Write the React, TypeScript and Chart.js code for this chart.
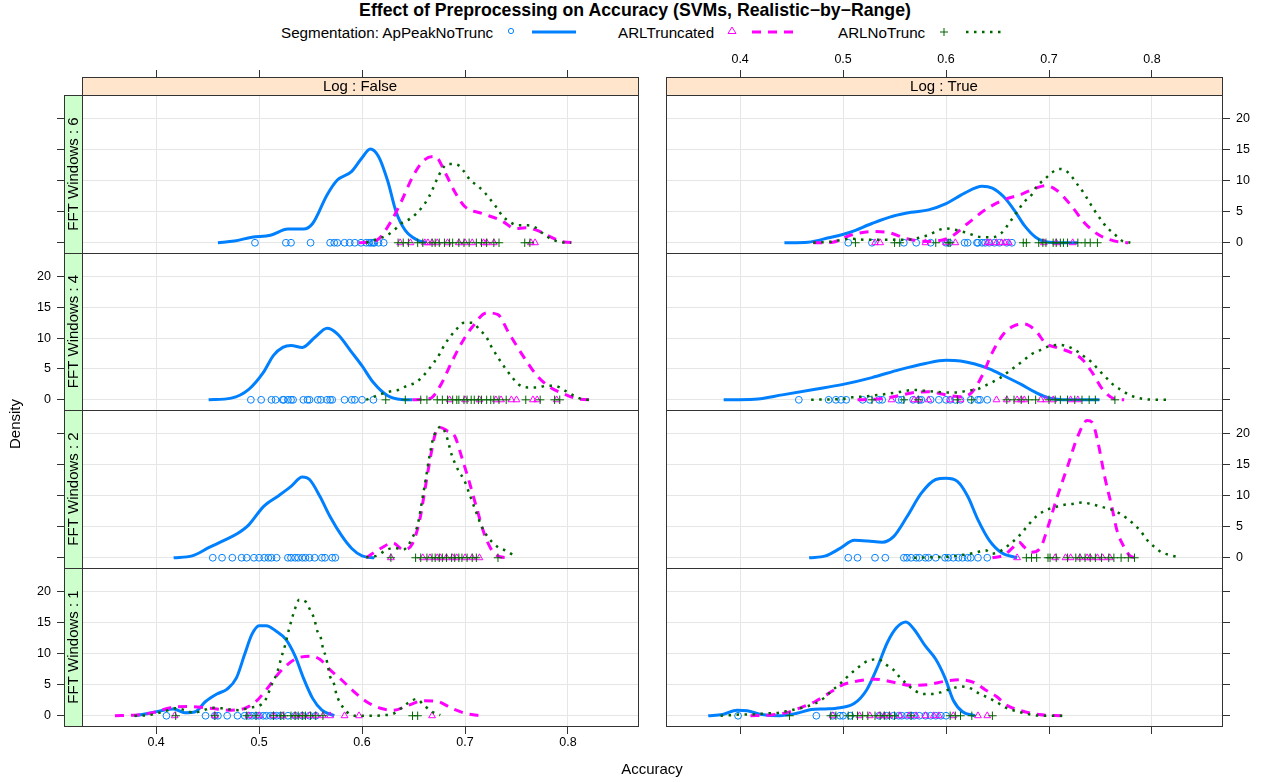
import React, { useEffect, useRef } from "react";
import { Chart, registerables } from "chart.js";

Chart.register(...registerables);

type Pt = [number, number];

// ---------- labels / ticks ----------
const titleText = "Effect of Preprocessing on Accuracy (SVMs, Realistic\u2212by\u2212Range)";
const seriesNames = ["Segmentation: ApPeakNoTrunc", "ARLTruncated", "ARLNoTrunc"];
const logLevels = ["Log : False", "Log : True"];
const fftLevels = ["FFT Windows : 6", "FFT Windows : 4", "FFT Windows : 2", "FFT Windows : 1"];
const xTickValues = [0.4, 0.5, 0.6, 0.7, 0.8];
const yTickValues = [0, 5, 10, 15, 20];
const xLimits = [0.328, 0.868];
const yLimits = [-1.65, 23.8];

// ---------- Log : False, FFT Windows : 6 ----------
const lf6Ap: Pt[] = [[0.460,0],[0.476,0.27],[0.493,0.9],[0.511,1.2],[0.528,2.2],[0.543,2.2],[0.552,3.1],[0.566,7.7],[0.576,10.1],[0.590,11.5],[0.600,13.7],[0.608,15.1],[0.616,13.9],[0.625,9.9],[0.633,5.0],[0.642,2.0],[0.654,0.4],[0.662,0]];
const lf6Trunc: Pt[] = [[0.597,0],[0.614,0.4],[0.628,3.4],[0.638,6.6],[0.650,10.9],[0.661,13.4],[0.671,13.9],[0.681,11.2],[0.690,8.2],[0.700,5.8],[0.717,4.7],[0.735,3.6],[0.749,2.3],[0.759,2.4],[0.770,2.0],[0.780,1.2],[0.794,0.2],[0.809,0]];
const lf6NoTrunc: Pt[] = [[0.604,0],[0.624,1.2],[0.631,2.0],[0.638,3.1],[0.647,3.9],[0.654,4.9],[0.660,6.1],[0.665,7.4],[0.669,8.8],[0.673,10.3],[0.677,11.6],[0.683,12.7],[0.692,12.6],[0.699,11.5],[0.705,10.1],[0.712,9.2],[0.719,8.1],[0.725,6.9],[0.731,5.6],[0.736,4.4],[0.743,3.4],[0.752,2.8],[0.761,2.8],[0.770,2.3],[0.777,1.3],[0.785,0.5],[0.794,0.1],[0.803,0]];
const lf6RugAp = [0.496,0.526,0.531,0.550,0.569,0.573,0.576,0.583,0.588,0.593,0.599,0.604,0.607,0.609,0.611,0.612,0.616,0.621];
const lf6RugTrunc = [0.637,0.647,0.661,0.664,0.668,0.673,0.683,0.694,0.700,0.707,0.718,0.721,0.728,0.764,0.768];
const lf6RugNoTrunc = [0.635,0.640,0.645,0.654,0.659,0.668,0.671,0.675,0.680,0.685,0.688,0.694,0.699,0.704,0.711,0.716,0.721,0.728,0.733,0.758,0.763];

// ---------- Log : True, FFT Windows : 6 ----------
const lt6Ap: Pt[] = [[0.443,0],[0.466,0.1],[0.486,0.8],[0.507,1.7],[0.528,3.1],[0.549,4.3],[0.566,4.9],[0.583,5.3],[0.600,6.3],[0.618,8.0],[0.635,9.1],[0.645,8.8],[0.656,7.4],[0.666,5.3],[0.676,2.8],[0.687,0.9],[0.700,0.1],[0.728,0]];
const lt6Trunc: Pt[] = [[0.471,0],[0.490,0.1],[0.507,1.2],[0.528,1.8],[0.545,1.6],[0.562,0.65],[0.583,0.2],[0.604,0.9],[0.621,3.1],[0.638,5.3],[0.656,6.9],[0.673,7.8],[0.687,8.8],[0.697,9.2],[0.707,8.5],[0.721,6.1],[0.735,3.1],[0.749,1.2],[0.763,0.3],[0.777,0]];
const lt6NoTrunc: Pt[] = [[0.471,0],[0.490,0.2],[0.507,0.65],[0.521,0.5],[0.542,0.5],[0.562,0.5],[0.580,1.1],[0.600,2.3],[0.618,1.7],[0.635,0.9],[0.645,0.9],[0.654,1.6],[0.661,3.1],[0.669,5.0],[0.676,6.6],[0.683,7.7],[0.688,9.1],[0.695,10.1],[0.702,11.2],[0.710,11.9],[0.718,11.4],[0.728,9.3],[0.735,7.7],[0.740,6.3],[0.745,5.0],[0.751,3.6],[0.756,2.5],[0.763,1.5],[0.770,0.4],[0.779,0]];
const lt6RugAp = [0.505,0.528,0.559,0.571,0.585,0.600,0.603,0.618,0.621,0.630,0.631,0.635,0.638,0.642,0.647,0.652,0.659,0.664];
const lt6RugTrunc = [0.531,0.536,0.580,0.600,0.609,0.640,0.643,0.649,0.654,0.657,0.661,0.695,0.707,0.723];
const lt6RugNoTrunc = [0.512,0.550,0.555,0.590,0.602,0.604,0.675,0.678,0.690,0.694,0.697,0.704,0.707,0.711,0.714,0.718,0.728,0.735,0.740,0.747];

// ---------- Log : False, FFT Windows : 4 ----------
const lf4Ap: Pt[] = [[0.451,0],[0.473,0.27],[0.490,1.7],[0.504,4.4],[0.514,7.2],[0.523,8.5],[0.531,8.8],[0.542,8.5],[0.554,10.1],[0.566,11.6],[0.576,10.7],[0.590,7.7],[0.600,5.5],[0.611,2.8],[0.625,0.65],[0.638,0.05],[0.649,0]];
const lf4Trunc: Pt[] = [[0.649,0],[0.666,0.2],[0.676,2.3],[0.687,6.1],[0.697,9.3],[0.707,11.8],[0.721,14.1],[0.732,13.8],[0.742,11.0],[0.756,7.2],[0.770,3.9],[0.783,2.0],[0.797,0.9],[0.811,0.1],[0.827,0]];
const lf4NoTrunc: Pt[] = [[0.604,0],[0.618,0.9],[0.626,1.3],[0.635,1.6],[0.644,2.3],[0.652,2.8],[0.659,3.8],[0.665,5.0],[0.670,6.1],[0.676,7.6],[0.680,8.9],[0.685,10.1],[0.692,11.5],[0.699,12.5],[0.707,12.5],[0.714,11.4],[0.721,10.1],[0.725,8.8],[0.730,7.4],[0.735,6.1],[0.740,4.9],[0.746,3.6],[0.752,2.5],[0.761,2.0],[0.770,2.0],[0.780,2.3],[0.789,2.2],[0.797,1.5],[0.806,0.65],[0.815,0.05],[0.825,0]];
const lf4RugAp = [0.492,0.502,0.512,0.516,0.523,0.524,0.528,0.531,0.533,0.543,0.547,0.549,0.557,0.560,0.566,0.569,0.571,0.583,0.590,0.593,0.600,0.611];
const lf4RugTrunc = [0.685,0.700,0.714,0.730,0.735,0.745,0.750,0.766,0.770,0.789];
const lf4RugNoTrunc = [0.623,0.642,0.657,0.663,0.673,0.678,0.683,0.688,0.692,0.694,0.699,0.702,0.706,0.709,0.713,0.716,0.721,0.725,0.728,0.733,0.740,0.759,0.773,0.787,0.792];

// ---------- Log : True, FFT Windows : 4 ----------
const lt4Ap: Pt[] = [[0.384,0],[0.414,0.1],[0.441,0.8],[0.473,1.7],[0.500,2.5],[0.528,3.6],[0.555,4.9],[0.580,5.9],[0.600,6.4],[0.614,6.3],[0.628,5.8],[0.642,5.0],[0.656,3.9],[0.673,2.5],[0.687,1.2],[0.700,0.3],[0.718,0],[0.749,0]];
const lt4Trunc: Pt[] = [[0.514,0],[0.531,0.1],[0.549,0.5],[0.569,1.2],[0.583,1.3],[0.600,0.8],[0.614,0.5],[0.625,1.2],[0.635,3.9],[0.645,7.7],[0.656,10.7],[0.666,12.0],[0.676,12.3],[0.687,11.2],[0.697,9.1],[0.707,8.5],[0.721,7.7],[0.732,6.6],[0.742,4.4],[0.752,1.7],[0.763,0.2],[0.773,0]];
const lt4NoTrunc: Pt[] = [[0.469,0],[0.479,0.05],[0.497,0.1],[0.509,0.4],[0.517,0.5],[0.535,0.8],[0.552,1.2],[0.569,1.6],[0.583,1.4],[0.600,1.2],[0.611,1.2],[0.621,1.5],[0.630,1.7],[0.638,2.3],[0.652,3.5],[0.661,4.6],[0.669,5.6],[0.676,6.5],[0.683,7.4],[0.692,8.1],[0.700,8.7],[0.710,8.9],[0.719,8.6],[0.728,7.8],[0.735,6.9],[0.742,6.0],[0.749,4.7],[0.756,3.5],[0.762,2.5],[0.770,1.6],[0.778,0.8],[0.787,0.3],[0.797,0.05],[0.815,0]];
const lt4RugAp = [0.457,0.486,0.493,0.498,0.503,0.519,0.526,0.535,0.538,0.554,0.557,0.568,0.574,0.576,0.585,0.593,0.600,0.604,0.609,0.614,0.624,0.631,0.633,0.640];
const lt4RugTrunc = [0.547,0.569,0.573,0.583,0.604,0.614,0.649,0.659,0.669,0.673,0.676,0.692,0.697,0.704,0.721,0.728];
const lt4RugNoTrunc = [0.528,0.559,0.573,0.611,0.625,0.659,0.666,0.673,0.680,0.687,0.700,0.706,0.711,0.718,0.725,0.732,0.739,0.745,0.764];

// ---------- Log : False, FFT Windows : 2 ----------
const lf2Ap: Pt[] = [[0.417,0],[0.435,0.3],[0.452,1.7],[0.466,2.8],[0.479,3.9],[0.490,5.3],[0.504,8.2],[0.519,10.0],[0.531,11.5],[0.542,13.0],[0.549,12.6],[0.559,9.9],[0.569,6.6],[0.580,3.6],[0.590,1.5],[0.600,0.3],[0.612,0]];
const lf2Trunc: Pt[] = [[0.604,0],[0.618,1.5],[0.630,2.4],[0.640,1.3],[0.649,2.3],[0.656,6.1],[0.661,10.9],[0.666,15.8],[0.671,19.9],[0.676,21.0],[0.683,20.4],[0.690,19.6],[0.697,16.1],[0.704,12.3],[0.711,8.2],[0.718,4.2],[0.725,1.5],[0.733,0.2],[0.742,0]];
const lf2NoTrunc: Pt[] = [[0.604,0.1],[0.614,0.3],[0.623,1.2],[0.631,1.6],[0.640,1.3],[0.650,3.6],[0.654,5.3],[0.659,9.9],[0.662,12.8],[0.665,15.9],[0.669,19.2],[0.673,20.7],[0.677,21.1],[0.682,19.6],[0.687,16.6],[0.690,15.3],[0.694,13.9],[0.699,12.6],[0.704,10.4],[0.710,7.7],[0.716,5.1],[0.721,3.6],[0.727,2.4],[0.732,1.7],[0.740,1.1],[0.748,0.3]];
const lf2RugAp = [0.455,0.464,0.474,0.483,0.488,0.495,0.500,0.505,0.509,0.512,0.517,0.528,0.531,0.535,0.538,0.542,0.545,0.549,0.554,0.561,0.564,0.571,0.574];
const lf2RugTrunc = [0.628,0.659,0.666,0.673,0.676,0.682,0.688,0.692,0.700,0.707,0.714];
const lf2RugNoTrunc = [0.628,0.652,0.657,0.663,0.668,0.671,0.675,0.678,0.682,0.687,0.690,0.694,0.697,0.702,0.707,0.711,0.732];

// ---------- Log : True, FFT Windows : 2 ----------
const lt2Ap: Pt[] = [[0.467,0],[0.483,0.3],[0.497,1.5],[0.511,2.8],[0.524,2.7],[0.538,2.5],[0.549,3.4],[0.562,6.6],[0.576,10.4],[0.590,12.6],[0.600,12.8],[0.611,12.3],[0.621,9.9],[0.631,6.1],[0.642,2.8],[0.654,0.8],[0.669,0]];
const lt2Trunc: Pt[] = [[0.645,0],[0.656,0.4],[0.664,1.5],[0.671,2.5],[0.676,1.7],[0.683,0.9],[0.692,1.7],[0.699,5.0],[0.707,9.3],[0.718,14.7],[0.728,19.6],[0.737,22.1],[0.742,21.8],[0.747,19.0],[0.754,13.1],[0.761,8.2],[0.766,4.4],[0.773,1.7],[0.778,0.4],[0.783,0]];
const lt2NoTrunc: Pt[] = [[0.569,0],[0.587,0.1],[0.604,0.2],[0.618,0.5],[0.628,0.8],[0.638,1.2],[0.645,0.65],[0.654,1.2],[0.662,2.2],[0.669,3.2],[0.675,4.3],[0.681,5.5],[0.688,6.7],[0.696,7.6],[0.705,8.1],[0.714,8.5],[0.724,8.7],[0.732,8.9],[0.742,8.6],[0.751,8.2],[0.760,7.8],[0.768,7.2],[0.776,6.3],[0.783,5.3],[0.789,4.3],[0.795,2.9],[0.802,1.8],[0.809,0.9],[0.818,0.4],[0.828,0]];
const lt2RugAp = [0.505,0.514,0.531,0.541,0.559,0.562,0.566,0.571,0.574,0.580,0.583,0.590,0.599,0.602,0.607,0.612,0.616,0.621,0.624,0.631,0.640];
const lt2RugTrunc = [0.669,0.706,0.716,0.721,0.730,0.737,0.740,0.747,0.752,0.759];
const lt2RugNoTrunc = [0.678,0.683,0.688,0.699,0.701,0.707,0.718,0.726,0.730,0.735,0.740,0.745,0.751,0.758,0.763,0.770,0.777,0.783];

// ---------- Log : False, FFT Windows : 1 ----------
const lf1Ap: Pt[] = [[0.379,0],[0.393,0.4],[0.407,0.9],[0.417,1.1],[0.428,0.5],[0.438,0.65],[0.448,2.3],[0.459,3.5],[0.469,4.3],[0.478,6.1],[0.486,9.9],[0.493,13.1],[0.500,14.5],[0.507,14.5],[0.516,13.7],[0.526,12.3],[0.535,9.6],[0.543,6.1],[0.552,2.8],[0.561,0.9],[0.573,0]];
const lf1Trunc: Pt[] = [[0.360,0],[0.379,0.1],[0.397,0.5],[0.414,1.3],[0.431,1.5],[0.452,1.2],[0.473,0.9],[0.486,1.2],[0.497,2.3],[0.507,4.2],[0.521,7.2],[0.535,9.1],[0.549,9.6],[0.559,9.1],[0.569,7.4],[0.580,5.8],[0.592,3.9],[0.604,2.3],[0.618,1.2],[0.631,0.9],[0.645,1.7],[0.659,2.4],[0.673,2.3],[0.687,1.2],[0.700,0.4],[0.714,0]];
const lf1NoTrunc: Pt[] = [[0.379,0],[0.393,0.1],[0.401,0.4],[0.410,0.8],[0.419,1.2],[0.428,0.9],[0.436,0.5],[0.445,0.8],[0.454,1.3],[0.464,1.2],[0.473,1.0],[0.481,0.9],[0.490,1.3],[0.500,1.6],[0.506,2.5],[0.513,5.3],[0.517,6.7],[0.522,9.6],[0.525,11.2],[0.529,13.9],[0.532,15.7],[0.535,17.3],[0.539,18.7],[0.545,18.4],[0.550,16.9],[0.554,15.4],[0.556,13.9],[0.560,12.5],[0.562,10.9],[0.565,9.4],[0.569,6.3],[0.573,5.0],[0.575,3.5],[0.579,2.0],[0.585,0.65],[0.593,0],[0.611,0],[0.621,0.1],[0.630,0.3],[0.638,1.2],[0.645,2.1],[0.653,2.7],[0.660,1.7],[0.668,0.65],[0.676,0.1]];
const lf1RugAp = [0.410,0.448,0.457,0.460,0.469,0.479,0.486,0.490,0.493,0.497,0.500,0.504,0.507,0.511,0.514,0.517,0.521,0.528,0.535,0.542,0.549,0.555];
const lf1RugTrunc = [0.418,0.457,0.490,0.500,0.514,0.523,0.535,0.542,0.549,0.555,0.562,0.569,0.583,0.597,0.668];
const lf1RugNoTrunc = [0.419,0.457,0.488,0.497,0.514,0.521,0.524,0.531,0.535,0.538,0.542,0.545,0.550,0.555,0.562,0.649,0.654];

// ---------- Log : True, FFT Windows : 1 ----------
const lt1Ap: Pt[] = [[0.369,0],[0.383,0.2],[0.397,0.9],[0.407,0.8],[0.421,0.2],[0.438,0],[0.455,0.4],[0.469,1.0],[0.483,1.1],[0.497,1.3],[0.511,2.0],[0.523,4.2],[0.533,7.7],[0.543,11.8],[0.552,14.2],[0.561,15.1],[0.569,13.9],[0.580,11.2],[0.590,9.1],[0.599,6.1],[0.607,2.5],[0.616,0.65],[0.628,0]];
const lt1Trunc: Pt[] = [[0.410,0],[0.428,0.1],[0.445,0.5],[0.459,1.3],[0.473,2.3],[0.486,3.6],[0.500,5.0],[0.514,5.6],[0.531,5.9],[0.549,5.4],[0.566,4.9],[0.583,5.0],[0.597,5.5],[0.614,5.8],[0.628,5.3],[0.638,4.2],[0.649,3.1],[0.659,1.7],[0.673,0.8],[0.690,0.2],[0.714,0]];
const lt1NoTrunc: Pt[] = [[0.381,0],[0.391,0.1],[0.400,0.2],[0.410,0.2],[0.419,0.3],[0.428,0.4],[0.438,0.5],[0.447,0.8],[0.455,1.1],[0.465,1.5],[0.473,2.0],[0.481,2.8],[0.488,3.9],[0.496,5.0],[0.503,6.1],[0.509,7.0],[0.517,8.1],[0.525,8.9],[0.534,9.1],[0.542,8.2],[0.549,7.4],[0.555,6.2],[0.562,5.1],[0.570,4.0],[0.579,3.5],[0.588,3.5],[0.597,3.9],[0.606,4.4],[0.615,4.7],[0.624,4.4],[0.632,3.6],[0.641,2.9],[0.649,2.2],[0.658,1.3],[0.667,0.8],[0.676,0.4],[0.685,0.1],[0.694,0],[0.713,0]];
const lt1RugAp = [0.398,0.474,0.490,0.497,0.500,0.507,0.535,0.542,0.549,0.554,0.557,0.562,0.566,0.569,0.574,0.580,0.585,0.590,0.595,0.600];
const lt1RugTrunc = [0.490,0.516,0.526,0.535,0.540,0.545,0.555,0.564,0.571,0.580,0.588,0.593,0.607,0.631,0.640];
const lt1RugNoTrunc = [0.448,0.488,0.493,0.505,0.509,0.514,0.519,0.524,0.531,0.536,0.540,0.545,0.550,0.566,0.604,0.609,0.614,0.625,0.645];

// ---------- panel table ----------
interface PanelSpec { col: number; row: number; curves: Pt[][]; rugs: number[][]; }
const panels: PanelSpec[] = [
  { col: 0, row: 0, curves: [lf6Ap, lf6Trunc, lf6NoTrunc], rugs: [lf6RugAp, lf6RugTrunc, lf6RugNoTrunc] },
  { col: 1, row: 0, curves: [lt6Ap, lt6Trunc, lt6NoTrunc], rugs: [lt6RugAp, lt6RugTrunc, lt6RugNoTrunc] },
  { col: 0, row: 1, curves: [lf4Ap, lf4Trunc, lf4NoTrunc], rugs: [lf4RugAp, lf4RugTrunc, lf4RugNoTrunc] },
  { col: 1, row: 1, curves: [lt4Ap, lt4Trunc, lt4NoTrunc], rugs: [lt4RugAp, lt4RugTrunc, lt4RugNoTrunc] },
  { col: 0, row: 2, curves: [lf2Ap, lf2Trunc, lf2NoTrunc], rugs: [lf2RugAp, lf2RugTrunc, lf2RugNoTrunc] },
  { col: 1, row: 2, curves: [lt2Ap, lt2Trunc, lt2NoTrunc], rugs: [lt2RugAp, lt2RugTrunc, lt2RugNoTrunc] },
  { col: 0, row: 3, curves: [lf1Ap, lf1Trunc, lf1NoTrunc], rugs: [lf1RugAp, lf1RugTrunc, lf1RugNoTrunc] },
  { col: 1, row: 3, curves: [lt1Ap, lt1Trunc, lt1NoTrunc], rugs: [lt1RugAp, lt1RugTrunc, lt1RugNoTrunc] },
];

// ---------- styling / layout ----------
const FONT = '"Liberation Sans", Arial, Helvetica, sans-serif';
const COLORS = ["#0080ff", "#ff00ff", "#006400"];
const LINE_WIDTHS = [3, 3, 2.5];
const LINE_DASHES = [[], [9, 7], [2.5, 5.5]];
const POINT_STYLES = ["circle", "triangle", "cross"];
const POINT_RADII = [3.4, 3.9, 4.2];
const GRID = "#e6e6e6";
const AXIS = "#333333";
const colX = [82, 666];
const colW = 556;
const rowY = [95, 253, 410, 568];
const rowH = [158, 157, 158, 158];
const STRIP = 18;
const TICK = 7;
const M = 60;
const LEFT_AXIS_W = 55;
const RIGHT_AXIS_W = 40;
const TOP_AXIS_H = 46;
const BOTTOM_AXIS_H = 36;
const TICK_FONT_SIZE = 12.5;
const STRIP_FONT_SIZE = 15;

function Panel({ spec }: { spec: PanelSpec }) {
  const ref = useRef<HTMLCanvasElement | null>(null);
  const leftCol = spec.col === 0;
  const topRow = spec.row === 0;
  const bottomRow = spec.row === 3;
  const w = colW + 2 * M;
  const h = rowH[spec.row] + 2 * M;

  useEffect(() => {
    const showY = leftCol ? spec.row === 1 || spec.row === 3 : spec.row === 0 || spec.row === 2;
    const datasets: any[] = [];
    for (let s = 2; s >= 0; s--) {
      datasets.push({
        data: spec.curves[s].map(([x, y]) => ({ x, y })),
        borderColor: COLORS[s],
        borderWidth: LINE_WIDTHS[s],
        borderDash: LINE_DASHES[s],
        borderCapStyle: "butt",
        pointRadius: 0,
        cubicInterpolationMode: "monotone",
        fill: false,
      });
      datasets.push({
        data: spec.rugs[s].map((x) => ({ x, y: 0 })),
        showLine: false,
        pointStyle: POINT_STYLES[s],
        pointRadius: POINT_RADII[s],
        pointBorderColor: COLORS[s],
        pointBackgroundColor: "rgba(0,0,0,0)",
        pointBorderWidth: 1,
        borderColor: COLORS[s],
      });
    }
    const tickFont = { family: FONT, size: TICK_FONT_SIZE };
    const setX = (a: any) => { a.ticks = xTickValues.map((v) => ({ value: v })); };
    const setY = (a: any) => { a.ticks = yTickValues.map((v) => ({ value: v })); };

    const stripPlugin = {
      id: "strips",
      afterDraw(chart: any) {
        const ctx = chart.ctx;
        const a = chart.chartArea;
        ctx.save();
        ctx.lineWidth = 1;
        ctx.strokeStyle = AXIS;
        if (topRow) {
          ctx.fillStyle = "#ffe5cc";
          ctx.fillRect(a.left, a.top - STRIP, a.right - a.left, STRIP);
          ctx.strokeRect(a.left + 0.5, a.top - STRIP + 0.5, a.right - a.left, STRIP);
          ctx.fillStyle = "#000";
          ctx.font = `${STRIP_FONT_SIZE}px ${FONT}`;
          ctx.textAlign = "center";
          ctx.textBaseline = "middle";
          ctx.fillText(logLevels[spec.col], (a.left + a.right) / 2, a.top - STRIP / 2 + 1);
        }
        if (leftCol) {
          ctx.fillStyle = "#ccffcc";
          ctx.fillRect(a.left - STRIP, a.top, STRIP, a.bottom - a.top);
          ctx.strokeRect(a.left - STRIP + 0.5, a.top + 0.5, STRIP, a.bottom - a.top);
          ctx.fillStyle = "#000";
          ctx.font = `${STRIP_FONT_SIZE}px ${FONT}`;
          ctx.textAlign = "center";
          ctx.textBaseline = "middle";
          ctx.translate(a.left - STRIP / 2 + 1, (a.top + a.bottom) / 2);
          ctx.rotate(-Math.PI / 2);
          ctx.fillText(fftLevels[spec.row], 0, 0);
          ctx.setTransform(1, 0, 0, 1, 0, 0);
        }
        ctx.strokeStyle = AXIS;
        ctx.strokeRect(a.left + 0.5, a.top + 0.5, a.right - a.left, a.bottom - a.top);
        ctx.restore();
      },
    };

    const scales: any = {
      x: {
        type: "linear",
        position: "bottom",
        min: xLimits[0],
        max: xLimits[1],
        afterBuildTicks: setX,
        afterFit: (a: any) => { a.height = bottomRow ? BOTTOM_AXIS_H : 0; },
        border: { display: false },
        grid: { color: GRID, lineWidth: 1, drawTicks: bottomRow, tickLength: TICK + 1, tickColor: AXIS, tickWidth: 1 },
        ticks: { display: bottomRow && leftCol, font: tickFont, color: "#000", padding: 1, maxRotation: 0, autoSkip: false, callback: (v: any) => Number(v).toFixed(1) },
      },
      y: {
        type: "linear",
        position: leftCol ? "left" : "right",
        min: yLimits[0],
        max: yLimits[1],
        afterBuildTicks: setY,
        afterFit: (a: any) => { a.width = leftCol ? LEFT_AXIS_W : RIGHT_AXIS_W; },
        border: { display: false },
        grid: { color: GRID, lineWidth: 1, drawTicks: true, tickLength: leftCol ? TICK + STRIP : TICK + 1, tickColor: AXIS, tickWidth: 1 },
        ticks: { display: showY, font: tickFont, color: "#000", padding: 6, autoSkip: false, callback: (v: any) => String(v) },
      },
    };
    if (topRow) {
      scales.xTop = {
        type: "linear",
        position: "top",
        min: xLimits[0],
        max: xLimits[1],
        afterBuildTicks: setX,
        afterFit: (a: any) => { a.height = TOP_AXIS_H; },
        border: { display: false },
        grid: { drawOnChartArea: false, drawTicks: true, tickLength: TICK + STRIP, tickColor: AXIS, tickWidth: 1 },
        ticks: { display: !leftCol, font: tickFont, color: "#000", padding: 3, maxRotation: 0, autoSkip: false, callback: (v: any) => Number(v).toFixed(1) },
      };
    }

    const chart = new Chart(ref.current as HTMLCanvasElement, {
      type: "line",
      data: { datasets },
      options: {
        responsive: false,
        animation: false,
        events: [],
        layout: {
          padding: {
            left: M - (leftCol ? LEFT_AXIS_W : 0),
            right: M - (leftCol ? 0 : RIGHT_AXIS_W),
            top: M - (topRow ? TOP_AXIS_H : 0),
            bottom: M - (bottomRow ? BOTTOM_AXIS_H : 0),
          },
        },
        plugins: { legend: { display: false }, tooltip: { enabled: false }, title: { display: false } },
        scales,
      } as any,
      plugins: [stripPlugin],
    } as any);
    return () => chart.destroy();
  }, []);

  return (
    <canvas
      ref={ref}
      width={w}
      height={h}
      style={{ position: "absolute", left: colX[spec.col] - M, top: rowY[spec.row] - M, width: w, height: h }}
    />
  );
}

function Legend() {
  const y = 32;
  return (
    <svg width={1261} height={50} style={{ position: "absolute", left: 0, top: 0 }}>
      <g fontFamily={FONT} fontSize={15.2} fill="#000">
        <text x={281} y={y} dominantBaseline="central">{seriesNames[0]}</text>
        <text x={618} y={y} dominantBaseline="central">{seriesNames[1]}</text>
        <text x={838} y={y} dominantBaseline="central">{seriesNames[2]}</text>
      </g>
      <circle cx={511} cy={y - 1} r={2.6} fill="none" stroke={COLORS[0]} strokeWidth={1} />
      <line x1={532} y1={y} x2={576} y2={y} stroke={COLORS[0]} strokeWidth={3} />
      <polygon points={`732,${y - 5} 728,${y + 1.5} 736,${y + 1.5}`} fill="none" stroke={COLORS[1]} strokeWidth={1} />
      <line x1={752} y1={y} x2={797} y2={y} stroke={COLORS[1]} strokeWidth={3} strokeDasharray="9 7" />
      <g stroke={COLORS[2]} strokeWidth={1}>
        <line x1={940} y1={y} x2={948} y2={y} />
        <line x1={944} y1={y - 4} x2={944} y2={y + 4} />
      </g>
      <line x1={966} y1={y} x2={1006} y2={y} stroke={COLORS[2]} strokeWidth={2.5} strokeDasharray="2.5 5.5" />
    </svg>
  );
}

export default function App() {
  return (
    <div style={{ position: "absolute", left: 0, top: 0, width: 1261, height: 782, background: "#fff", overflow: "hidden", fontFamily: FONT }}>
      <div style={{ position: "absolute", left: 635, top: 0, transform: "translateX(-50%)", whiteSpace: "nowrap", fontWeight: "bold", fontSize: 17.7, lineHeight: "20px", color: "#000" }}>
        {titleText}
      </div>
      <Legend />
      {panels.map((p, i) => (
        <Panel key={i} spec={p} />
      ))}
      <div style={{ position: "absolute", left: 652, top: 760, transform: "translateX(-50%)", fontSize: 15, lineHeight: "18px", whiteSpace: "nowrap" }}>Accuracy</div>
      <div style={{ position: "absolute", left: 15, top: 424, transform: "translate(-50%, -50%) rotate(-90deg)", fontSize: 15, lineHeight: "18px", whiteSpace: "nowrap" }}>Density</div>
    </div>
  );
}
